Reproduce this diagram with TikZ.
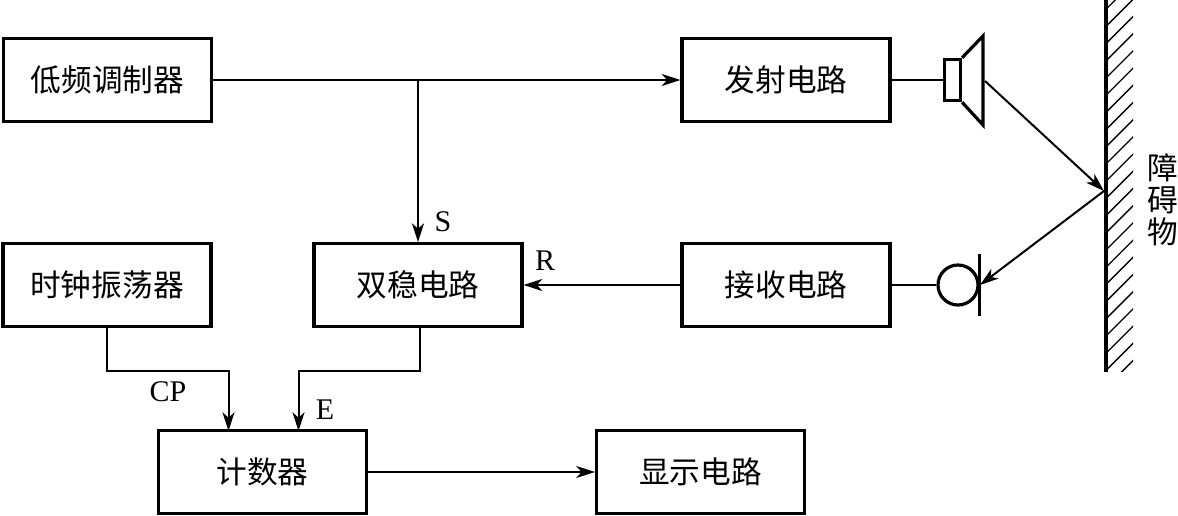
\documentclass[tikz,border=0pt]{standalone}
\usepackage{fontspec}
\setmainfont{Liberation Serif}
\newfontfamily\cjk{Noto Sans CJK SC}[Scale=1]
\usetikzlibrary{arrows.meta,calc}
\tikzset{
 x=0.75pt,y=-0.75pt,
 blockbox/.style={draw,line width=2.4pt,minimum width=156pt,minimum height=62pt,inner sep=0pt,font=\cjk\fontsize{23}{25}\selectfont},
 lab/.style={inner sep=0pt,font=\fontsize{22.5}{24}\selectfont},
 wire/.style={line width=1.5pt},
 arrowed/.style={wire,-{Stealth[length=14pt,width=9pt,inset=4pt]}},
 thick part/.style={line width=2.4pt,line join=miter},
 hatchline/.style={line width=1pt},
 wallchar/.style={inner sep=0pt,font=\cjk\fontsize{23}{25}\selectfont}
}
\begin{document}
\begin{tikzpicture}
\useasboundingbox (0,0) rectangle (1178,516);
\node[blockbox] (low) at (107.5,80) {低频调制器};
\node[blockbox] (send) at (786,80) {发射电路};
\node[blockbox] (clock) at (107,285) {时钟振荡器};
\node[blockbox] (bi) at (418,285) {双稳电路};
\node[blockbox] (recv) at (786,285) {接收电路};
\node[blockbox] (count) at (262.5,472) {计数器};
\node[blockbox] (show) at (700.5,472) {显示电路};
% speaker
\node[draw,thick part,minimum width=12pt,minimum height=31pt,inner sep=0pt] (spk) at (952.5,80) {};
\draw[thick part] (spk.north east) -- (983,36) -- (983,125) -- (spk.south east);
\coordinate (hornmouth) at (985,81);
% microphone
\node[draw,circle,thick part,minimum size=30pt,inner sep=0pt] (mic) at (958,285) {};
\coordinate (mictop) at (979.5,254);
\coordinate (micbot) at (979.5,316);
\draw[thick part] (mictop) -- (micbot);
\coordinate (micin) at (980,285);
% wall
\coordinate (walltop) at (1106,0);
\coordinate (wallbot) at (1106,372);
\coordinate (hit) at (1104,191);
\begin{scope}
\clip (1106,0) rectangle (1133,372);
\foreach \k in {0,...,24}{
  \draw[hatchline] (1104,{\k*17.2-6}) -- ++(32,-32);
}
\end{scope}
\draw[line width=2.8pt] (walltop) -- (wallbot);
\node[wallchar] (za) at (1163,168) {障};
\node[wallchar] (ai) at (1163,200) {碍};
\node[wallchar] (wu) at (1163,232) {物};
% connectors
\draw[arrowed] (low.east) -- (send.west);
\coordinate (branch) at (low.east -| bi.north);
\draw[arrowed] (branch) -- (bi.north);
\draw[wire] (send.east) -- (spk.west);
\draw[wire] (recv.east) -- (mic.west);
\draw[arrowed] (recv.west) -- (bi.east);
\draw[arrowed] (hornmouth) -- (hit);
\draw[arrowed] (hit) -- (micin);
\coordinate (cl) at (106.5,371.5);
\coordinate (cr) at (228.5,371.5);
\coordinate (cin) at (228.5,431);
\draw[arrowed] (cl |- clock.south) -- (cl) -- (cr) -- (cin);
\coordinate (bl) at (419.5,371.5);
\coordinate (br) at (298.5,371.5);
\coordinate (bin) at (298.5,431);
\draw[arrowed] (bl |- bi.south) -- (bl) -- (br) -- (bin);
\draw[arrowed] (count.east) -- (show.west);
% labels
\node[lab] (s) at (443,222) {S};
\node[lab] (r) at (545,261) {R};
\node[lab] (cp) at (168,392) {CP};
\node[lab] (e) at (325,410) {E};
\end{tikzpicture}
\end{document}
